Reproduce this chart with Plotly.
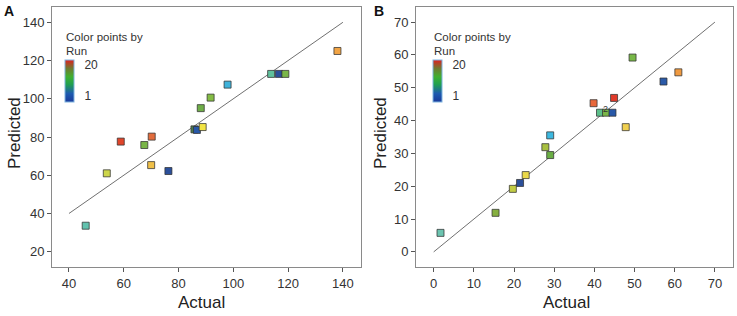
import plotly.graph_objects as go

# ---------------- data ----------------
a_actual = [46.1, 53.8, 58.9, 67.5, 70.2, 70.0, 76.3, 85.8, 86.7, 88.8, 88.1, 91.7, 97.9, 113.8, 116.6, 119.0, 138.0]
a_pred = [33.6, 61.0, 77.6, 75.8, 80.2, 65.3, 62.2, 84.0, 83.7, 85.2, 95.1, 100.6, 107.4, 113.0, 113.0, 113.0, 125.0]
a_colors = ["#62c2ae", "#cdd64a", "#e0452a", "#7ab648", "#e26c3c", "#f0c048", "#2b4f9a", "#4f7f4f",
            "#2858a8", "#f2e444", "#6fae48", "#84bc44", "#3eb2da", "#5fc09c", "#2b4f9a", "#7ab648", "#f2a444"]

b_actual = [1.7, 15.4, 19.7, 21.5, 22.9, 27.8, 29.0, 29.0, 39.8, 41.4, 42.9, 44.5, 44.9, 47.8, 49.5, 57.2, 60.9]
b_pred = [5.8, 11.9, 19.2, 21.0, 23.4, 31.9, 29.5, 35.5, 45.3, 42.4, 42.4, 42.4, 46.9, 38.0, 59.2, 51.9, 54.7]
b_colors = ["#6cc4b0", "#86b040", "#c2cc44", "#2b4f9a", "#ead848", "#a8c040", "#6aae44", "#3cb8e0",
            "#e8683a", "#5cbf8a", "#7ab648", "#2858a8", "#e03a2a", "#f0d050", "#78b848", "#2b5aa8", "#f09a40"]

a_line = [40, 140]
b_line = [0, 70]

a_xticks = [40, 60, 80, 100, 120, 140]
a_yticks = [20, 40, 60, 80, 100, 120, 140]
b_xticks = [0, 10, 20, 30, 40, 50, 60, 70]
b_yticks = [0, 10, 20, 30, 40, 50, 60, 70]

run_min, run_max = 1, 20
# ----------------------------------------

FONT = "Arial, Liberation Sans, sans-serif"
W, H = 737, 316

cscale = [[0, "#1a3a9a"], [0.2, "#1e5ab0"], [0.42, "#20a050"], [0.6, "#40b030"],
          [0.8, "#707a30"], [1, "#e02020"]]

fig = go.Figure()


def add_panel(xa, ya, xs, ys, cols, line, cbx):
    fig.add_trace(go.Scatter(x=line, y=line, mode="lines", xaxis=xa, yaxis=ya,
                             line=dict(color="#707070", width=1), hoverinfo="skip",
                             showlegend=False))
    fig.add_trace(go.Scatter(x=xs, y=ys, mode="markers", xaxis=xa, yaxis=ya, showlegend=False,
                             marker=dict(symbol="square", size=7, color=cols,
                                         line=dict(color="rgba(50,50,50,0.75)", width=1))))
    # colorbar carrier
    fig.add_trace(go.Scatter(x=[xs[0]], y=[ys[0]], mode="markers", xaxis=xa, yaxis=ya,
                             showlegend=False, hoverinfo="skip",
                             marker=dict(size=1, opacity=0, color=[run_min],
                                         colorscale=cscale, cmin=-2.7, cmax=23, showscale=True,
                                         colorbar=dict(x=cbx / W, xanchor="left", y=1 - 81 / H,
                                                       yanchor="middle", lenmode="pixels", len=42,
                                                       thickness=9, xpad=0, ypad=0,
                                                       outlinewidth=1, outlinecolor="#7fb4e0",
                                                       tickvals=[run_min, run_max],
                                                       ticktext=[str(run_min), str(run_max)],
                                                       ticks="outside", ticklen=8,
                                                       tickcolor="rgba(0,0,0,0)",
                                                       tickfont=dict(size=12, color="#333",
                                                                     family=FONT)))))


add_panel("x", "y", a_actual, a_pred, a_colors, a_line, 65)
add_panel("x2", "y2", b_actual, b_pred, b_colors, b_line, 433)

axis_common = dict(showgrid=False, zeroline=False, showline=True, linecolor="#8a8a8a",
                   linewidth=1, mirror=True, ticks="outside", ticklen=4, tickcolor="#555",
                   tickfont=dict(size=13, color="#333", family=FONT))

ydom = [1 - 267 / H, 1 - 7 / H]
fig.update_layout(
    width=W, height=H, margin=dict(l=0, r=0, t=0, b=0),
    paper_bgcolor="white", plot_bgcolor="white", font=dict(family=FONT),
    xaxis=dict(domain=[52 / W, 361 / W], range=[33.8, 146.6], tickvals=a_xticks,
               anchor="y", **axis_common),
    yaxis=dict(domain=ydom, range=[12, 148], tickvals=a_yticks, anchor="x", **axis_common),
    xaxis2=dict(domain=[416 / W, 733 / W], range=[-4.4, 74.5], tickvals=b_xticks,
                anchor="y2", **axis_common),
    yaxis2=dict(domain=ydom, range=[-4.6, 74.6], tickvals=b_yticks, anchor="x2", **axis_common),
)

ann = []
for lab, lx in (("A", 2), ("B", 372)):
    ann.append(dict(text="<b>%s</b>" % lab, x=lx / W, y=1 - 1 / H, xref="paper", yref="paper",
                    xanchor="left", yanchor="top", showarrow=False,
                    font=dict(size=14, color="#111", family=FONT)))
for cx in (202, 566):
    ann.append(dict(text="Actual", x=cx / W, y=1 - 302 / H, xref="paper", yref="paper",
                    xanchor="center", yanchor="middle", showarrow=False,
                    font=dict(size=17, color="#222", family=FONT)))
for cx in (14, 380):
    ann.append(dict(text="Predicted", x=cx / W, y=1 - 133 / H, xref="paper", yref="paper",
                    xanchor="center", yanchor="middle", showarrow=False, textangle=-90,
                    font=dict(size=17, color="#222", family=FONT)))
for tx in (64, 432):
    ann.append(dict(text="Color points by", x=tx / W, y=1 - 37 / H, xref="paper",
                    yref="paper", xanchor="left", yanchor="middle", align="left", showarrow=False,
                    font=dict(size=11.5, color="#333", family=FONT)))
    ann.append(dict(text="Run", x=tx / W, y=1 - 51 / H, xref="paper",
                    yref="paper", xanchor="left", yanchor="middle", align="left", showarrow=False,
                    font=dict(size=11.5, color="#333", family=FONT)))
ann.append(dict(text="2", x=42.7, y=43.6, xref="x2", yref="y2", showarrow=False,
                font=dict(size=9, color="#333", family=FONT)))
fig.update_layout(annotations=ann)

fig.write_html("out.html", config={"displayModeBar": False},
               post_script="document.body.style.margin='0';")
